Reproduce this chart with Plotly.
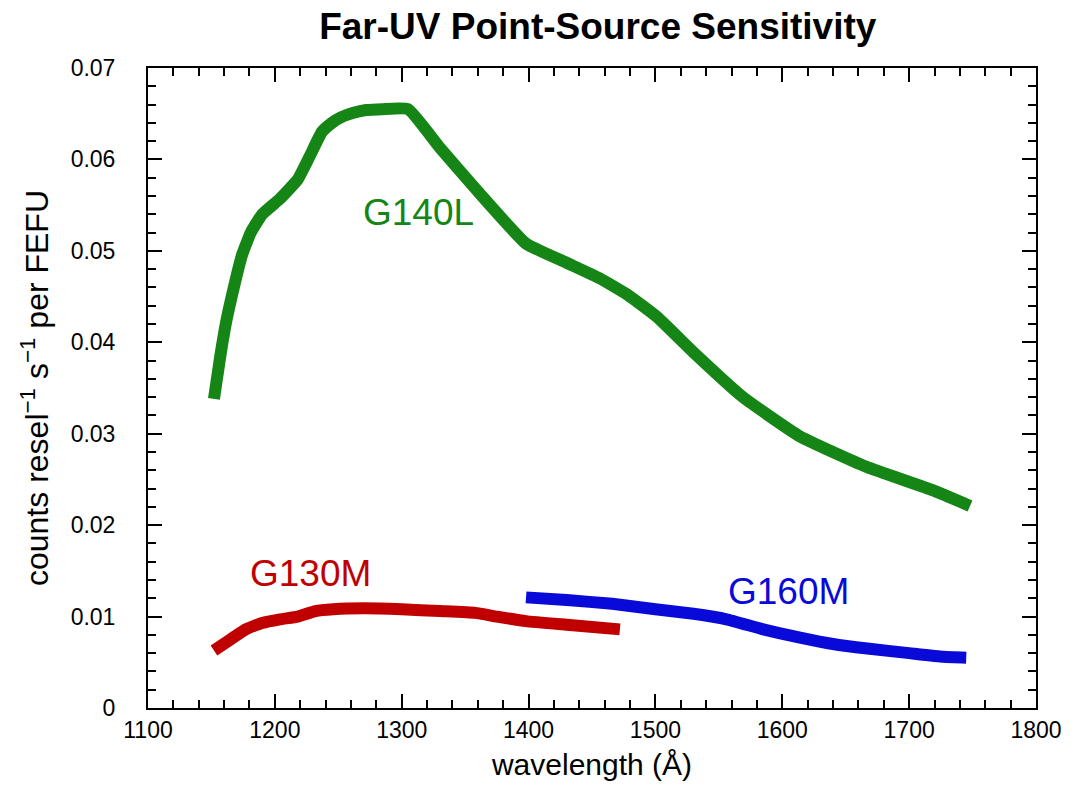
import plotly.graph_objects as go

# G140L (green)
g140l_wl = [1152, 1157, 1162, 1168, 1174, 1181, 1190, 1204, 1218, 1228, 1237, 1245, 1252, 1262, 1272, 1285, 1305,
            1330, 1360, 1398, 1430, 1456, 1478, 1501, 1530, 1569, 1614, 1666, 1719, 1748]
g140l_val = [0.0338, 0.0385, 0.0425, 0.0462, 0.0495, 0.0520, 0.0540, 0.0557, 0.0578, 0.0605, 0.0630, 0.0640, 0.0646,
             0.0651, 0.0654, 0.0655, 0.0655, 0.0613, 0.0565, 0.0508, 0.0487, 0.0470, 0.0452, 0.0428, 0.0389, 0.0340,
             0.0297, 0.0264, 0.0238, 0.0221]

# G130M (red)
g130m_wl = [1152, 1165, 1177, 1190, 1204, 1218, 1232, 1246, 1270, 1300, 1330, 1358, 1375, 1398, 1430, 1472]
g130m_val = [0.0063, 0.0075, 0.0086, 0.0093, 0.0097, 0.0100, 0.0106, 0.0108, 0.0109, 0.0108, 0.0106, 0.0104,
             0.0100, 0.0095, 0.0091, 0.0086]

# G160M (blue)
g160m_wl = [1398, 1430, 1466, 1500, 1530, 1556, 1585, 1614, 1640, 1667, 1700, 1727, 1745]
g160m_val = [0.0121, 0.0118, 0.0114, 0.0108, 0.0103, 0.0097, 0.0086, 0.0077, 0.0070, 0.0065, 0.0060, 0.0056, 0.0055]

labels = ["G140L", "G130M", "G160M"]
label_x = [1313, 1228, 1605]
label_y = [0.0542, 0.0147, 0.0127]
colors = ["#158515", "#c00000", "#0a0ad8"]

FONT = "Arial, Liberation Sans, Helvetica, sans-serif"

fig = go.Figure()
for wl, val, col in [(g140l_wl, g140l_val, colors[0]), (g130m_wl, g130m_val, colors[1]), (g160m_wl, g160m_val, colors[2])]:
    fig.add_trace(go.Scatter(x=wl, y=val, mode="lines",
                             line=dict(color=col, width=12, shape="spline", smoothing=0.4),
                             showlegend=False, hoverinfo="skip"))

for t, x, y, c in zip(labels, label_x, label_y, colors):
    fig.add_annotation(x=x, y=y, text=t, showarrow=False, font=dict(family=FONT, size=37, color=c),
                       xanchor="center", yanchor="middle")

axis_common = dict(showline=True, linecolor="black", linewidth=2, mirror="allticks",
                   ticks="inside", ticklen=14, tickwidth=2, tickcolor="black",
                   showgrid=False, zeroline=False, automargin=False,
                   tickfont=dict(family=FONT, size=23, color="black"))

fig.update_xaxes(range=[1100, 1800], dtick=100, tick0=1100,
                 minor=dict(ticks="inside", ticklen=8, tickwidth=2, tickcolor="black", dtick=20, showgrid=False),
                 title=dict(text="wavelength (Å)", font=dict(family=FONT, size=30, color="black"), standoff=12),
                 **axis_common)
fig.update_yaxes(range=[0, 0.07], dtick=0.01, tick0=0, ticklabelstandoff=26,
                 minor=dict(ticks="inside", ticklen=8, tickwidth=2, tickcolor="black", dtick=0.002, showgrid=False),
                 title=dict(text="counts resel<sup>−1</sup> s<sup>−1</sup> per FEFU",
                            font=dict(family=FONT, size=32, color="black"), standoff=12),
                 **axis_common)

fig.update_layout(
    width=1079, height=786,
    margin=dict(l=148, r=43, t=68, b=78),
    paper_bgcolor="white", plot_bgcolor="white",
    title=dict(text="<b>Far-UV Point-Source Sensitivity</b>", x=0.554, xanchor="center", y=0.967, yanchor="middle",
               font=dict(family=FONT, size=37, color="black")),
)

fig.write_html("out.html")
